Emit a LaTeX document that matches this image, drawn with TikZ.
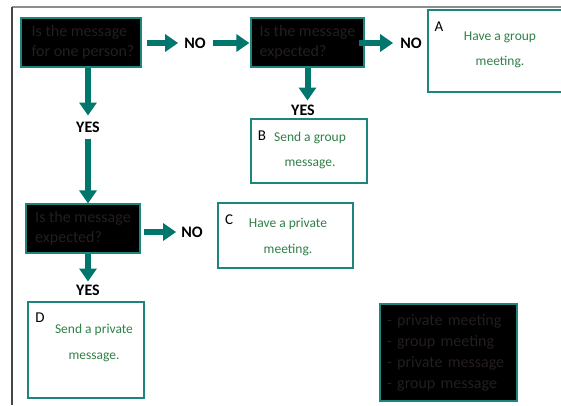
\documentclass[tikz,border=0pt]{standalone}
\usepackage{fontspec}
\setmainfont{Carlito}
\usetikzlibrary{arrows.meta}
\definecolor{arrowteal}{RGB}{0,118,108}
\definecolor{boxteal}{RGB}{28,134,124}
\definecolor{greentext}{RGB}{48,128,72}
\definecolor{darktext}{RGB}{36,30,30}
\definecolor{frametop}{RGB}{140,140,140}
\definecolor{frameleft}{RGB}{70,70,70}
\tikzset{
  qbox/.style={draw=boxteal, line width=1.2pt, fill=black, text=darktext, align=left,
    font=\fontsize{16}{20}\selectfont, inner ysep=0pt, inner xsep=0pt},
  ansbox/.style={draw=boxteal, line width=1.2pt, fill=white, inner sep=0pt},
  anstext/.style={text=greentext, align=center, font=\fontsize{13.5}{25.5}\selectfont, inner sep=0pt},
  letter/.style={text=black, font=\fontsize{15}{18}\selectfont, inner sep=0pt},
  yn/.style={text=black, font=\fontsize{16}{18}\selectfont\bfseries, inner sep=0pt},
  arr/.style={-{Triangle[length=13pt,width=17pt]}, line width=6pt, draw=arrowteal},
  legbox/.style={draw=boxteal, line width=1.2pt, fill=black, text=darktext, align=left,
    font=\fontsize{16}{21}\selectfont, inner xsep=7pt, text width=123pt, minimum width=137pt, minimum height=97pt}
}
\begin{document}
\begin{tikzpicture}[x=1pt,y=-1pt]
\useasboundingbox (0,0) rectangle (561,405);
\clip (0,0) rectangle (561,405);
% frame
\draw[frametop, line width=2pt] (12,7) -- (561,7);
\draw[frameleft, line width=1.2pt] (12,7) -- (12,405);

% question boxes
\node[qbox, minimum width=120pt, minimum height=49pt] (q1) at (81,42.5) {\hspace*{4pt}Is the message\\\hspace*{4pt}for one person?};
\node[qbox, minimum width=113pt, minimum height=49pt] (q2) at (307.5,42.5) {Is the message\\expected?};
\node[qbox, minimum width=114pt, minimum height=49pt] (q3) at (83,228.5) {Is the message\\expected?};

% yes/no labels
\node[yn] (no1) at (195,43) {NO};
\node[yn] (no2) at (411,43) {NO};
\node[yn] (no3) at (192,232) {NO};
\node[yn] (yes1) at (88,127) {YES};
\node[yn] (yes2) at (303,110) {YES};
\node[yn] (yes3) at (88,290) {YES};

% answer boxes
\node[ansbox, minimum width=144pt, minimum height=82pt] (boxa) at (500,51) {};
\node[ansbox, minimum width=116pt, minimum height=64pt] (boxb) at (309,151) {};
\node[ansbox, minimum width=135pt, minimum height=65pt] (boxc) at (285.5,235.5) {};
\node[ansbox, minimum width=116pt, minimum height=96pt] (boxd) at (86,350) {};

\node[letter] (la) at (439,27) {A};
\node[letter] (lb) at (262,136) {B};
\node[letter] (lc) at (229,220) {C};
\node[letter] (ld) at (40,318) {D};

\node[anstext] (ta) at (500,50) {Have a group\\meeting.};
\node[anstext] (tb) at (310,150.5) {Send a group\\message.};
\node[anstext] (tc) at (288,237) {Have a private\\meeting.};
\node[anstext] (td) at (94,343) {Send a private\\message.};

% legend
\node[legbox] (leg) at (448.5,352.5) {- private meeting\\- group meeting\\- private message\\- group message};

% arrows
\draw[arr, shorten <=5pt, shorten >=6pt] (q1.east |- no1) -- (no1.west);
\draw[arr, shorten <=7pt, shorten >=1pt] (no1.east) -- (q2.west |- no1);
\draw[arr, shorten <=-6pt, shorten >=7pt] (q2.east |- no2) -- (no2.west);
\draw[arr, shorten <=3pt, shorten >=5pt] (q3.east |- no3) -- (no3.west);
\draw[arr, shorten >=4pt] (q2.south) -- (q2.south |- yes2.north);
\draw[arr, shorten >=6pt] (q1.south -| yes1) -- (yes1.north);
\draw[arr, shorten <=6pt] (yes1.south) -- (q3.north -| yes1);
\draw[arr, shorten >=3pt] (q3.south -| yes3) -- (yes3.north);
\end{tikzpicture}
\end{document}
